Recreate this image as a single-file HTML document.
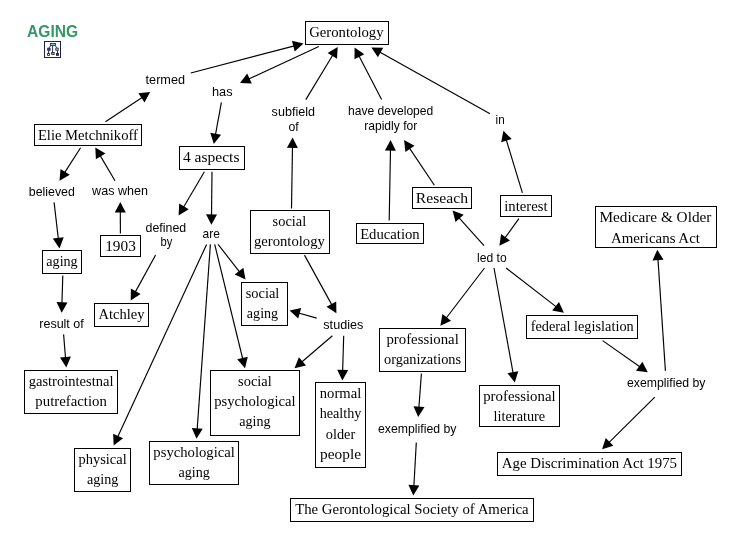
<!DOCTYPE html>
<html><head><meta charset="utf-8"><title>AGING</title>
<style>
html,body{margin:0;padding:0;background:#fff;}
body{width:739px;height:543px;overflow:hidden;position:relative;}
svg{position:absolute;left:0;top:0;display:block;}
.n{font-family:"Liberation Serif","Times New Roman",serif;font-size:15.2px;fill:#000;text-anchor:middle;}
.l{font-family:"Liberation Sans",Arial,sans-serif;font-size:12.8px;fill:#000;text-anchor:middle;}
.t{font-family:"Liberation Sans",Arial,sans-serif;font-size:15.8px;font-weight:bold;fill:#339966;}
</style></head><body>
<svg width="739" height="543" viewBox="0 0 739 543">
<rect x="0" y="0" width="739" height="543" fill="#fff"/>

<g>
<rect x="44.5" y="41.5" width="16" height="16" fill="#fff" stroke="#20204a" stroke-width="1"/>
<g stroke="#14142e" stroke-width="0.9" fill="none">
<path d="M52.6 45.5 V52.2 M50.8 45.5 L49.2 47.8 M55.2 45.5 L56.8 47.8 M48.6 50.4 V53.2 M57.5 50.4 V53.2"/>
</g>
<g stroke="#1a1a44" stroke-width="0.8">
<rect x="50.5" y="43.5" width="5" height="2" fill="#8fc2f4"/>
<rect x="47.7" y="48.1" width="2.4" height="2.2" fill="#3448b8"/>
<rect x="55.8" y="48.1" width="2.4" height="2.2" fill="#d6d884"/>
<rect x="47.6" y="53.4" width="1.9" height="2.1" fill="#f4f0c8"/>
<rect x="51.7" y="52.4" width="2.5" height="2" fill="#b4aa70"/>
<rect x="56.4" y="53.4" width="2.1" height="2.1" fill="#2838a8"/>
</g>
</g>

<g stroke="#000" stroke-width="1.15" fill="none">
<line x1="190.8" y1="73.0" x2="295.4" y2="45.6"/>
<line x1="318.8" y1="46.5" x2="247.6" y2="79.5"/>
<line x1="221.4" y1="102.3" x2="215.3" y2="135.7"/>
<line x1="305.8" y1="99.6" x2="333.3" y2="54.2"/>
<line x1="381.6" y1="99.6" x2="358.5" y2="54.9"/>
<line x1="490.0" y1="113.7" x2="378.7" y2="51.5"/>
<line x1="105.5" y1="121.8" x2="143.2" y2="96.7"/>
<line x1="80.6" y1="147.7" x2="64.0" y2="173.6"/>
<line x1="115.0" y1="180.7" x2="99.6" y2="154.6"/>
<line x1="120.4" y1="233.5" x2="120.3" y2="210.4"/>
<line x1="54.1" y1="202.4" x2="58.5" y2="240.1"/>
<line x1="204.4" y1="171.8" x2="182.9" y2="208.2"/>
<line x1="212.0" y1="171.8" x2="211.5" y2="216.4"/>
<line x1="155.6" y1="255.0" x2="134.7" y2="293.1"/>
<line x1="62.8" y1="275.6" x2="61.9" y2="304.3"/>
<line x1="63.6" y1="334.4" x2="65.6" y2="359.0"/>
<line x1="206.6" y1="244.4" x2="117.2" y2="437.9"/>
<line x1="210.4" y1="244.4" x2="197.1" y2="430.4"/>
<line x1="214.7" y1="244.4" x2="243.0" y2="360.0"/>
<line x1="218.1" y1="244.4" x2="240.3" y2="272.9"/>
<line x1="291.5" y1="208.6" x2="292.5" y2="145.8"/>
<line x1="304.5" y1="255.1" x2="332.4" y2="305.9"/>
<line x1="316.7" y1="318.1" x2="297.7" y2="312.8"/>
<line x1="332.4" y1="335.7" x2="300.9" y2="362.7"/>
<line x1="343.7" y1="335.7" x2="342.6" y2="372.0"/>
<line x1="389.2" y1="220.5" x2="390.5" y2="148.5"/>
<line x1="434.4" y1="185.3" x2="408.8" y2="147.1"/>
<line x1="522.4" y1="192.9" x2="505.9" y2="138.7"/>
<line x1="518.9" y1="218.6" x2="504.3" y2="238.9"/>
<line x1="484.0" y1="245.7" x2="458.2" y2="216.8"/>
<line x1="484.5" y1="268.0" x2="445.5" y2="319.0"/>
<line x1="494.0" y1="268.0" x2="513.3" y2="374.2"/>
<line x1="506.1" y1="268.0" x2="557.3" y2="307.6"/>
<line x1="602.6" y1="340.6" x2="640.9" y2="367.5"/>
<line x1="665.4" y1="370.9" x2="657.9" y2="258.1"/>
<line x1="654.8" y1="397.2" x2="608.1" y2="443.4"/>
<line x1="421.4" y1="373.6" x2="418.8" y2="408.7"/>
<line x1="416.3" y1="442.5" x2="413.8" y2="487.2"/>
</g>
<g fill="#000" stroke="none">
<polygon points="303.5,43.5 294.7,51.5 291.9,40.8"/>
<polygon points="240.0,83.0 247.2,73.6 251.8,83.6"/>
<polygon points="213.8,144.0 210.3,132.7 221.1,134.7"/>
<polygon points="337.7,47.0 337.0,58.8 327.6,53.1"/>
<polygon points="354.6,47.4 364.3,54.2 354.5,59.3"/>
<polygon points="371.4,47.4 383.2,47.7 377.9,57.3"/>
<polygon points="150.2,92.0 144.5,102.4 138.4,93.2"/>
<polygon points="59.5,180.7 60.5,168.9 69.8,174.8"/>
<polygon points="95.3,147.4 105.4,153.6 95.9,159.2"/>
<polygon points="120.3,202.0 125.8,212.5 114.8,212.5"/>
<polygon points="59.5,248.4 52.8,238.6 63.7,237.3"/>
<polygon points="178.6,215.4 179.2,203.6 188.7,209.2"/>
<polygon points="211.4,224.8 206.0,214.2 217.0,214.4"/>
<polygon points="130.7,300.5 130.9,288.6 140.6,293.9"/>
<polygon points="61.7,312.7 56.5,302.0 67.5,302.4"/>
<polygon points="66.3,367.4 60.0,357.4 70.9,356.5"/>
<polygon points="113.7,445.5 113.1,433.7 123.1,438.3"/>
<polygon points="196.5,438.8 191.8,427.9 202.7,428.7"/>
<polygon points="245.0,368.2 237.2,359.3 247.8,356.7"/>
<polygon points="245.5,279.5 234.7,274.6 243.4,267.8"/>
<polygon points="292.6,137.4 297.9,148.0 286.9,147.8"/>
<polygon points="336.4,313.3 326.5,306.7 336.2,301.4"/>
<polygon points="289.6,310.5 301.2,308.0 298.2,318.6"/>
<polygon points="294.5,368.2 298.9,357.2 306.1,365.5"/>
<polygon points="342.4,380.4 337.2,369.7 348.2,370.1"/>
<polygon points="390.6,140.1 395.9,150.7 384.9,150.5"/>
<polygon points="404.1,140.1 414.5,145.8 405.4,151.9"/>
<polygon points="503.4,130.7 511.7,139.1 501.2,142.3"/>
<polygon points="499.4,245.7 501.1,234.0 510.0,240.4"/>
<polygon points="452.6,210.5 463.7,214.7 455.5,222.0"/>
<polygon points="440.4,325.7 442.4,314.0 451.1,320.7"/>
<polygon points="514.8,382.5 507.5,373.2 518.3,371.2"/>
<polygon points="563.9,312.7 552.2,310.6 559.0,301.9"/>
<polygon points="647.8,372.3 636.0,370.8 642.4,361.8"/>
<polygon points="657.3,249.7 663.5,259.8 652.5,260.5"/>
<polygon points="602.1,449.3 605.7,438.0 613.4,445.8"/>
<polygon points="418.2,417.1 413.5,406.2 424.5,407.0"/>
<polygon points="413.3,495.6 408.4,484.8 419.4,485.4"/>
</g>
<g fill="#fff" stroke="#000" stroke-width="1">
<rect x="305.5" y="21.5" width="83" height="23"/>
<rect x="34.5" y="124.5" width="107" height="21"/>
<rect x="179.5" y="146.5" width="65" height="23"/>
<rect x="100.5" y="235.5" width="40" height="21"/>
<rect x="42.5" y="250.5" width="39" height="23"/>
<rect x="94.5" y="303.5" width="54" height="23"/>
<rect x="24.5" y="370.5" width="93" height="43"/>
<rect x="74.5" y="448.5" width="56" height="43"/>
<rect x="149.5" y="441.5" width="89" height="43"/>
<rect x="210.5" y="370.5" width="89" height="65"/>
<rect x="241.5" y="282.5" width="46" height="43"/>
<rect x="250.5" y="210.5" width="79" height="43"/>
<rect x="315.5" y="382.5" width="50" height="85"/>
<rect x="356.5" y="223.5" width="67" height="20"/>
<rect x="412.5" y="187.5" width="59" height="21"/>
<rect x="500.5" y="195.5" width="51" height="21"/>
<rect x="595.5" y="206.5" width="121" height="41"/>
<rect x="379.5" y="328.5" width="86" height="43"/>
<rect x="479.5" y="385.5" width="80" height="41"/>
<rect x="526.5" y="315.5" width="111" height="23"/>
<rect x="497.5" y="452.5" width="184" height="23"/>
<rect x="290.5" y="498.5" width="243" height="23"/>
</g>
<g style="opacity:0.999">
<text class="t" transform="translate(27,36.6) scale(0.987,1)">AGING</text>
<text class="n" transform="translate(346.4,36.9) scale(0.9684,1)">Gerontology</text>
<text class="n" transform="translate(87.9,140.1) scale(0.9630,1)">Elie Metchnikoff</text>
<text class="n" transform="translate(211.2,162.3) scale(1.0236,1)">4 aspects</text>
<text class="n" transform="translate(120.5,251.1) scale(1.0066,1)">1903</text>
<text class="n" transform="translate(62.0,266.1) scale(0.9298,1)">aging</text>
<text class="n" transform="translate(121.4,319.2) scale(0.9560,1)">Atchley</text>
<text class="n" transform="translate(71.1,386.3) scale(0.9577,1)">gastrointestnal</text>
<text class="n" transform="translate(71.1,406.3) scale(0.9737,1)">putrefaction</text>
<text class="n" transform="translate(102.6,464.2) scale(0.9515,1)">physical</text>
<text class="n" transform="translate(102.6,484.2) scale(0.9298,1)">aging</text>
<text class="n" transform="translate(194.1,456.9) scale(0.9666,1)">psychological</text>
<text class="n" transform="translate(194.1,476.9) scale(0.9298,1)">aging</text>
<text class="n" transform="translate(254.9,386.2) scale(0.9477,1)">social</text>
<text class="n" transform="translate(254.9,406.2) scale(0.9666,1)">psychological</text>
<text class="n" transform="translate(254.9,426.3) scale(0.9298,1)">aging</text>
<text class="n" transform="translate(262.5,298.1) scale(0.9477,1)">social</text>
<text class="n" transform="translate(262.5,318.1) scale(0.9298,1)">aging</text>
<text class="n" transform="translate(289.4,225.9) scale(0.9477,1)">social</text>
<text class="n" transform="translate(289.4,246.0) scale(0.9666,1)">gerontology</text>
<text class="n" transform="translate(340.5,398.1) scale(0.9616,1)">normal</text>
<text class="n" transform="translate(340.5,418.4) scale(0.9343,1)">healthy</text>
<text class="n" transform="translate(340.5,438.7) scale(0.9414,1)">older</text>
<text class="n" transform="translate(340.5,459.0) scale(1.0119,1)">people</text>
<text class="n" transform="translate(389.9,238.6) scale(0.9672,1)">Education</text>
<text class="n" transform="translate(441.9,203.3) scale(1.0308,1)">Reseach</text>
<text class="n" transform="translate(525.9,211.1) scale(0.9678,1)">interest</text>
<text class="n" transform="translate(655.4,221.9) scale(1.0061,1)">Medicare &amp; Older</text>
<text class="n" transform="translate(655.4,242.6) scale(0.9816,1)">Americans Act</text>
<text class="n" transform="translate(422.6,344.3) scale(0.9759,1)">professional</text>
<text class="n" transform="translate(422.6,364.1) scale(0.9452,1)">organizations</text>
<text class="n" transform="translate(519.4,401.3) scale(0.9759,1)">professional</text>
<text class="n" transform="translate(519.4,421.1) scale(0.9425,1)">literature</text>
<text class="n" transform="translate(582.2,330.9) scale(0.9441,1)">federal legislation</text>
<text class="n" transform="translate(589.4,468.2) scale(0.9786,1)">Age Discrimination Act 1975</text>
<text class="n" transform="translate(411.9,514.2) scale(0.9743,1)">The Gerontological Society of America</text>
<text class="l" transform="translate(165.3,84.0) scale(0.9915,1)">termed</text>
<text class="l" transform="translate(222.3,96.0) scale(0.9982,1)">has</text>
<text class="l" transform="translate(293.3,115.8) scale(0.9837,1)">subfield</text>
<text class="l" transform="translate(293.6,130.7) scale(0.9555,1)">of</text>
<text class="l" transform="translate(390.6,115.0) scale(0.9437,1)">have developed</text>
<text class="l" transform="translate(390.7,130.0) scale(0.9448,1)">rapidly for</text>
<text class="l" transform="translate(500.1,123.7) scale(0.9134,1)">in</text>
<text class="l" transform="translate(51.8,195.6) scale(0.9668,1)">believed</text>
<text class="l" transform="translate(120.0,194.7) scale(0.9821,1)">was when</text>
<text class="l" transform="translate(165.9,231.6) scale(0.9668,1)">defined</text>
<text class="l" transform="translate(166.4,245.7) scale(0.8729,1)">by</text>
<text class="l" transform="translate(211.2,237.5) scale(0.9405,1)">are</text>
<text class="l" transform="translate(61.5,327.6) scale(0.9774,1)">result of</text>
<text class="l" transform="translate(343.3,329.0) scale(0.9863,1)">studies</text>
<text class="l" transform="translate(491.9,262.0) scale(0.9453,1)">led to</text>
<text class="l" transform="translate(417.2,432.5) scale(0.9582,1)">exemplified by</text>
<text class="l" transform="translate(666.2,387.1) scale(0.9582,1)">exemplified by</text>
</g>
</svg></body></html>
